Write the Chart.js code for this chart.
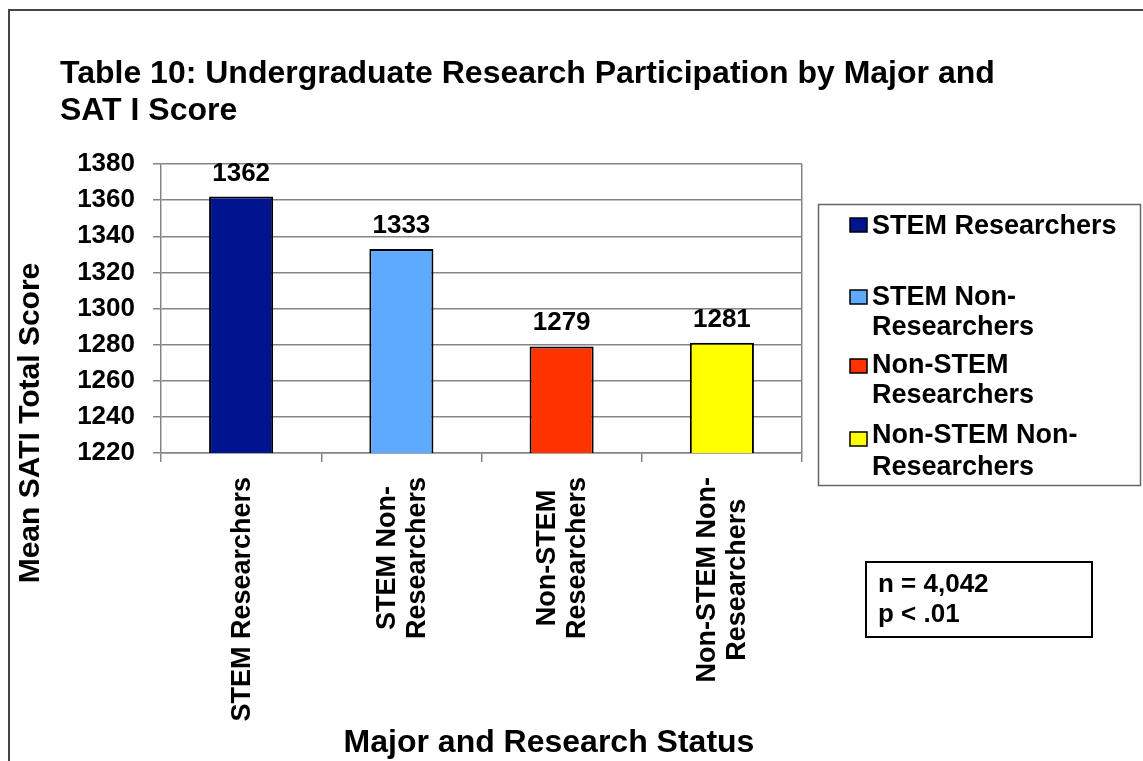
<!DOCTYPE html>
<html>
<head>
<meta charset="utf-8">
<script src="https://cdn.jsdelivr.net/npm/chart.js@4.4.1/dist/chart.umd.min.js"></script>
<style>
  html, body { margin: 0; padding: 0; background: #fff; }
  canvas { display: block; }
</style>
</head>
<body>
<canvas id="chart" width="1143" height="761"></canvas>
<script>
// chart data
const categories = ['STEM Researchers', 'STEM Non-Researchers', 'Non-STEM Researchers', 'Non-STEM Non-Researchers'];
const satScores = [1362, 1333, 1279, 1281];
const barColors = ['#001490', '#5eaaff', '#ff3300', '#ffff00'];
const tickLines = [['STEM Researchers'], ['STEM Non-', 'Researchers'], ['Non-STEM', 'Researchers'], ['Non-STEM Non-', 'Researchers']];
const legendLines = [['STEM Researchers'], ['STEM Non-', 'Researchers'], ['Non-STEM', 'Researchers'], ['Non-STEM Non-', 'Researchers']];
const yMin = 1220, yMax = 1380, yStep = 20;
const titleLines = ['Table 10: Undergraduate Research Participation by Major and', 'SAT I Score'];
const yTitle = 'Mean SATI Total Score';
const xTitle = 'Major and Research Status';
const statLines = ['n = 4,042', 'p < .01'];

const FONT = '"Liberation Sans", Arial, sans-serif';
const GRID = '#858585';

Chart.defaults.font.family = FONT;
Chart.defaults.color = '#000';

// draws the text parts and boxes that sit around the plot
const extras = {
  id: 'extras',
  afterDraw(chart) {
    const ctx = chart.ctx;
    const xs = chart.scales.x;
    ctx.save();

    // outer frame (only top and left visible)
    ctx.strokeStyle = '#444';
    ctx.lineWidth = 2;
    ctx.beginPath();
    ctx.moveTo(9, 761);
    ctx.lineTo(9, 10);
    ctx.lineTo(1143, 10);
    ctx.stroke();

    ctx.fillStyle = '#000';
    ctx.textAlign = 'left';
    ctx.textBaseline = 'alphabetic';

    // title
    ctx.font = 'bold 32px ' + FONT;
    ctx.fillText(titleLines[0], 60, 83);
    ctx.fillText(titleLines[1], 60, 120);

    // value labels over bars
    ctx.font = 'bold 26px ' + FONT;
    ctx.textAlign = 'center';
    chart.getDatasetMeta(0).data.forEach((bar, i) => {
      ctx.fillText(String(satScores[i]), bar.x, bar.y - 16);
    });

    // x tick labels, rotated, lines centred
    ctx.font = 'bold 27px ' + FONT;
    tickLines.forEach((lines, i) => {
      const cx = xs.getPixelForTick(i);
      const longest = Math.max(...lines.map(l => ctx.measureText(l).width));
      ctx.save();
      ctx.translate(cx, 477);
      ctx.rotate(-Math.PI / 2);
      ctx.textAlign = 'center';
      ctx.textBaseline = 'middle';
      lines.forEach((l, j) => {
        ctx.fillText(l, -longest / 2, (j - (lines.length - 1) / 2) * 30 + 1);
      });
      ctx.restore();
    });

    // y axis title
    ctx.save();
    ctx.font = 'bold 30px ' + FONT;
    ctx.translate(31, 423);
    ctx.rotate(-Math.PI / 2);
    ctx.textAlign = 'center';
    ctx.textBaseline = 'middle';
    ctx.fillText(yTitle, 0, 0);
    ctx.restore();

    // x axis title
    ctx.font = 'bold 32px ' + FONT;
    ctx.textAlign = 'center';
    ctx.fillText(xTitle, 549, 752);

    // legend box
    ctx.strokeStyle = '#666';
    ctx.lineWidth = 1.5;
    ctx.strokeRect(818.5, 204.5, 322, 281);
    const swatchY = [218, 290, 359, 432];
    const lineBase = [[234], [305, 335], [373, 403], [443, 475]];
    ctx.font = 'bold 27px ' + FONT;
    ctx.textAlign = 'left';
    legendLines.forEach((lines, i) => {
      ctx.fillStyle = barColors[i];
      ctx.fillRect(850, swatchY[i], 17, 14);
      ctx.strokeStyle = '#000';
      ctx.lineWidth = 1.5;
      ctx.strokeRect(850, swatchY[i], 17, 14);
      ctx.fillStyle = '#000';
      lines.forEach((l, j) => ctx.fillText(l, 872, lineBase[i][j]));
    });

    // stats box
    ctx.strokeStyle = '#000';
    ctx.lineWidth = 2;
    ctx.strokeRect(866, 562, 226, 75);
    ctx.font = 'bold 26px ' + FONT;
    ctx.fillText(statLines[0], 878, 592);
    ctx.fillText(statLines[1], 878, 622);

    ctx.restore();
  }
};

new Chart(document.getElementById('chart'), {
  type: 'bar',
  data: {
    labels: categories,
    datasets: [{
      data: satScores,
      backgroundColor: barColors,
      borderColor: '#000',
      borderWidth: 2,
      barPercentage: 0.4,
      categoryPercentage: 1.0
    }]
  },
  options: {
    responsive: false,
    animation: false,
    devicePixelRatio: 1,
    layout: { padding: { top: 164, right: 341, bottom: 268, left: 0 } },
    plugins: {
      legend: { display: false },
      title: { display: false },
      tooltip: { enabled: false }
    },
    scales: {
      x: {
        afterFit(scale) { scale.height = 40; },
        ticks: { display: false },
        grid: {
          offset: true,
          drawOnChartArea: true,
          drawTicks: true,
          tickLength: 9,
          lineWidth: 1.5,
          tickColor: GRID,
          color: c => (c.type === 'tick' ? 'rgba(0,0,0,0)' : GRID)
        },
        border: { color: GRID, width: 1.5 }
      },
      y: {
        min: yMin,
        max: yMax,
        afterFit(scale) { scale.width = 161; },
        ticks: {
          stepSize: yStep,
          padding: 18,
          font: { size: 26, weight: 'bold' },
          color: '#000',
          callback: v => String(v)
        },
        grid: {
          color: GRID,
          lineWidth: 1.5,
          tickLength: 8
        },
        border: { color: GRID, width: 1.5 }
      }
    }
  },
  plugins: [extras]
});
</script>
</body>
</html>
